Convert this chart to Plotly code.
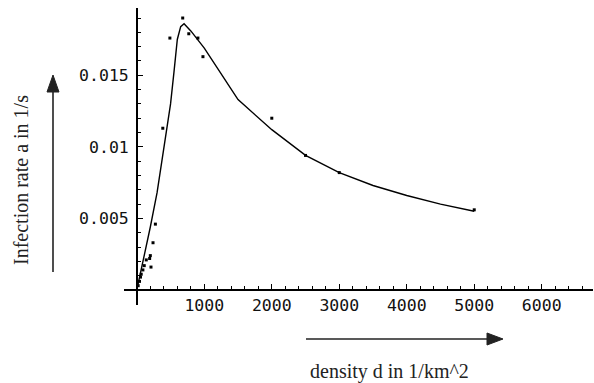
import plotly.graph_objects as go

# Measured data points (density d in 1/km^2, infection rate a in 1/s)
obs_d = [20, 40, 55, 65, 90, 110, 140, 190, 200, 210, 240, 275, 385, 490, 680, 770, 905, 980, 2000, 2500, 3000, 5000]
obs_a = [0.0003, 0.0006, 0.0009, 0.0011, 0.0014, 0.0017, 0.0021, 0.0022, 0.0024, 0.0016, 0.0033, 0.0046, 0.0113, 0.0176, 0.0190, 0.0179, 0.0176, 0.0163, 0.0120, 0.0094, 0.0082, 0.0056]

# Model curve
fit_d = [0, 100, 200, 300, 400, 500, 550, 600, 650, 700, 800, 900, 1000, 1500, 2000, 2500, 3000, 3500, 4000, 4500, 5000]
fit_a = [0.0, 0.0021, 0.0044, 0.0068, 0.0100, 0.0130, 0.0152, 0.0175, 0.0184, 0.0186, 0.0181, 0.0175, 0.0169,
         0.0133, 0.0112, 0.0094, 0.0082, 0.0073, 0.0066, 0.0060, 0.0055]

x_ticks = [1000, 2000, 3000, 4000, 5000, 6000]
x_labels = ["1000", "2000", "3000", "4000", "5000", "6000"]
y_ticks = [0.005, 0.01, 0.015]
y_labels = ["0.005", "0.01", "0.015"]
x_minor = [v for v in range(200, 6800, 200) if v % 1000]
y_minor = [round(k * 0.001, 3) for k in range(1, 20) if k % 5]

x_range = [-190, 6760]
y_range = [-0.00105, 0.0197]

fig = go.Figure()
fig.add_trace(go.Scatter(x=fit_d, y=fit_a, mode="lines",
                         line=dict(color="black", width=1.4), showlegend=False))
fig.add_trace(go.Scatter(x=obs_d, y=obs_a, mode="markers",
                         marker=dict(color="black", size=3, symbol="square"), showlegend=False))

x_pos = (0 - y_range[0]) / (y_range[1] - y_range[0])
y_pos = (0 - x_range[0]) / (x_range[1] - x_range[0])

tickfont = dict(family="DejaVu Sans Mono", size=16.5, color="#111111")
fig.update_xaxes(range=x_range, anchor="free", position=x_pos, showgrid=False, zeroline=False,
                 showline=True, linecolor="black", linewidth=1.5,
                 tickmode="array", tickvals=x_ticks, ticktext=x_labels, ticks="inside",
                 ticklen=5, tickwidth=1, tickcolor="black", tickfont=tickfont,
                 minor=dict(tickmode="array", tickvals=x_minor, ticks="inside", ticklen=3,
                            tickwidth=1, tickcolor="black", showgrid=False))
fig.update_yaxes(range=y_range, anchor="free", position=y_pos, showgrid=False, zeroline=False,
                 showline=True, linecolor="black", linewidth=1.5,
                 tickmode="array", tickvals=y_ticks, ticktext=y_labels, ticks="inside",
                 ticklen=5, tickwidth=1, tickcolor="black", tickfont=tickfont, ticklabelstandoff=4,
                 minor=dict(tickmode="array", tickvals=y_minor, ticks="inside", ticklen=3,
                            tickwidth=1, tickcolor="black", showgrid=False))

W, H = 594, 383
L, R, T, B = 124, 1, 8, 78
pw, ph = W - L - R, H - T - B

def px(xp):
    return (xp - L) / pw

def py(yp):
    return (H - B - yp) / ph

arrow_col = "#222222"
shapes = []
# vertical arrow (y axis)
shapes.append(dict(type="line", xref="paper", yref="paper", x0=px(53), x1=px(53), y0=py(272), y1=py(90),
                   line=dict(color=arrow_col, width=1.6)))
shapes.append(dict(type="path", xref="paper", yref="paper",
                   path=f"M {px(53)},{py(75)} L {px(47)},{py(92)} L {px(59)},{py(92)} Z",
                   fillcolor=arrow_col, line=dict(color=arrow_col, width=1)))
# horizontal arrow (x axis)
shapes.append(dict(type="line", xref="paper", yref="paper", x0=px(306), x1=px(490), y0=py(339), y1=py(339),
                   line=dict(color=arrow_col, width=1.6)))
shapes.append(dict(type="path", xref="paper", yref="paper",
                   path=f"M {px(503)},{py(339)} L {px(487)},{py(333)} L {px(487)},{py(345)} Z",
                   fillcolor=arrow_col, line=dict(color=arrow_col, width=1)))

titlefont = dict(family="Liberation Serif", size=20, color="#222222")
annotations = [
    dict(text="Infection rate a in 1/s", xref="paper", yref="paper", x=px(21), y=py(180),
         textangle=-90, showarrow=False, font=titlefont, xanchor="center", yanchor="middle"),
    dict(text="density d in 1/km^2", xref="paper", yref="paper", x=px(389), y=py(371),
         showarrow=False, font=titlefont, xanchor="center", yanchor="middle"),
]

fig.update_layout(width=W, height=H, margin=dict(l=L, r=R, t=T, b=B),
                  plot_bgcolor="white", paper_bgcolor="white",
                  shapes=shapes, annotations=annotations)

fig.write_html("out.html")
